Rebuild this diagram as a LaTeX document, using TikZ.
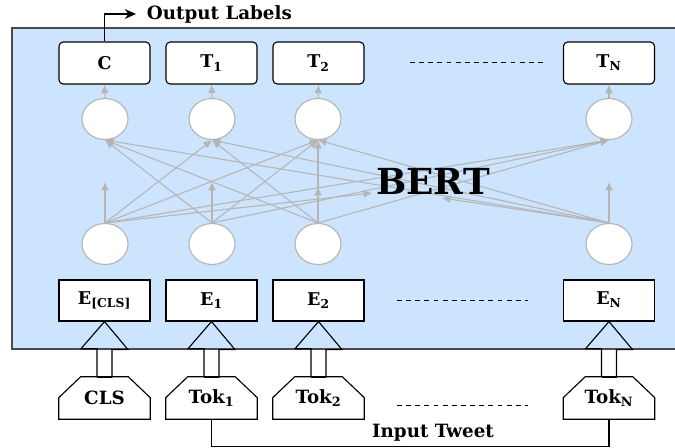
\documentclass[tikz,border=0pt]{standalone}
\usepackage{fontspec}
\setmainfont{DejaVu Serif}
\usetikzlibrary{positioning,shapes.geometric,arrows.meta,calc}
\definecolor{bertblue}{RGB}{204,228,253}
\definecolor{attgray}{RGB}{181,181,181}
\definecolor{framegray}{RGB}{75,75,75}

\tikzset{
  outbox/.style={draw,fill=white,rounded corners=3pt,line width=0.8pt,minimum width=2.275cm,minimum height=1.05cm,
    font=\fontsize{12.5}{14}\selectfont\bfseries},
  embbox/.style={draw,fill=white,line width=0.8pt,minimum width=2.275cm,minimum height=1.025cm,
    font=\fontsize{12.5}{14}\selectfont\bfseries},
  hidden/.style={ellipse,draw=attgray,fill=white,line width=0.8pt,minimum width=1.15cm,minimum height=1.025cm,inner sep=0pt},
  tokbox/.style={minimum width=2.275cm,minimum height=1.05cm,inner sep=0pt,
    font=\fontsize{13}{15}\selectfont\bfseries},
  att/.style={attgray,line width=0.75pt,-{Latex[length=6pt,width=5.5pt]}},
  dots/.style={line width=0.7pt,dash pattern=on 3.5pt off 3pt},
  caption/.style={font=\fontsize{13}{15}\selectfont\bfseries},
}

\begin{document}
\begin{tikzpicture}[x=0.025cm,y=-0.025cm]
  \useasboundingbox (0,0) rectangle (675,447);
  % BERT panel
  \draw[framegray,fill=bertblue,line width=1pt] (12,28) rectangle (700,349);

  % output boxes
  \node[outbox] (c)  at (104.5,63) {C};
  \node[outbox] (t1) at (211.5,63) {T\textsubscript{1}};
  \node[outbox] (t2) at (318.5,63) {T\textsubscript{2}};
  \node[outbox] (tn) at (609,63)   {T\textsubscript{N}};
  \draw[dots] (410,62) -- (543,62);

  % hidden states
  \foreach \n/\x in {u1/105,u2/212,u3/318,un/609} {
    \node[hidden] (\n) at (\x,119) {};
  }
  \foreach \n/\x in {l1/105,l2/212,l3/318,ln/609} {
    \node[hidden] (\n) at (\x,244) {};
  }
  \coordinate (bertl) at (372,193);
  \coordinate (bertr) at (442,198);

  % self attention
  \foreach \a/\b in {l1/u2,l1/u3,l1/un,l2/u1,l2/u3,l2/un,l3/u1,l3/u2,l3/u3,l3/un,ln/u1,ln/u2,ln/u3} {
    \draw[att] (\a.north) -- (\b.south);
  }
  \draw[att] (l1.north) -- (bertl);
  \draw[att] (ln.north) -- (bertr);
  \foreach \n in {l1,l2,ln} {
    \draw[att] (\n.north) -- ++(0,-41);
  }
  \draw[att] (l3.north) -- ++(0,-36);
  \foreach \a/\b in {u1/c,u2/t1,u3/t2,un/tn} {
    \draw[att] (\a.north) -- (\b.south);
  }
  \node[font=\fontsize{25.5}{30}\selectfont\bfseries] (bert) at (433,181) {BERT};

  % embeddings
  \node[embbox] (ecls) at (104.5,300.5) {E\textsubscript{[CLS]}};
  \node[embbox] (e1)   at (211.5,300.5) {E\textsubscript{1}};
  \node[embbox] (e2)   at (318.5,300.5) {E\textsubscript{2}};
  \node[embbox] (en)   at (609,300.5)   {\raisebox{3pt}{E\textsubscript{N}}};
  \draw[dots] (397,300) -- (528,300);

  % tokens
  \node[tokbox] (kcls) at (104.5,398) {CLS};
  \node[tokbox] (k1)   at (211.5,398) {Tok\textsubscript{1}};
  \node[tokbox] (k2)   at (318.5,398) {Tok\textsubscript{2}};
  \node[tokbox] (kn)   at (609,398)   {Tok\textsubscript{N}};
  \draw[dots] (397,405) -- (528,405);
  \foreach \k in {kcls,k1,k2,kn} {
    \draw[line width=0.8pt] (\k.south west) -- ($(\k.north west)+(0,21)$) -- ($(\k.north west)+(22,0)$)
      -- ($(\k.north east)+(-22,0)$) -- ($(\k.north east)+(0,21)$) -- (\k.south east) -- cycle;
  }

  % hollow input arrows
  \foreach \k/\e in {kcls/ecls,k1/e1,k2/e2,kn/en} {
    \draw[line width=0.8pt] ($(\k.north)+(-7.5,0)$) -- ++(0,-28) -- ++(-16,0) -- (\e.south)
      -- ++(23.5,28) -- ++(-16,0) -- ++(0,28);
    \draw[line width=1.6pt] ($(\k.north)+(-7.5,0)$) -- ($(\k.north)+(7.5,0)$);
  }

  % output and input labels
  \node[caption,anchor=west] (outlbl) at (142,14) {Output Labels};
  \coordinate (outtip) at (136,14);
  \draw[line width=0.8pt,-{Stealth[length=8pt,width=7pt]}] (c.north) |- (outtip);
  \draw[line width=0.8pt] (k1.south) -- ++(0,27) -| (kn.south);
  \node[caption] (intweet) at (433,433) {Input Tweet};
\end{tikzpicture}
\end{document}
